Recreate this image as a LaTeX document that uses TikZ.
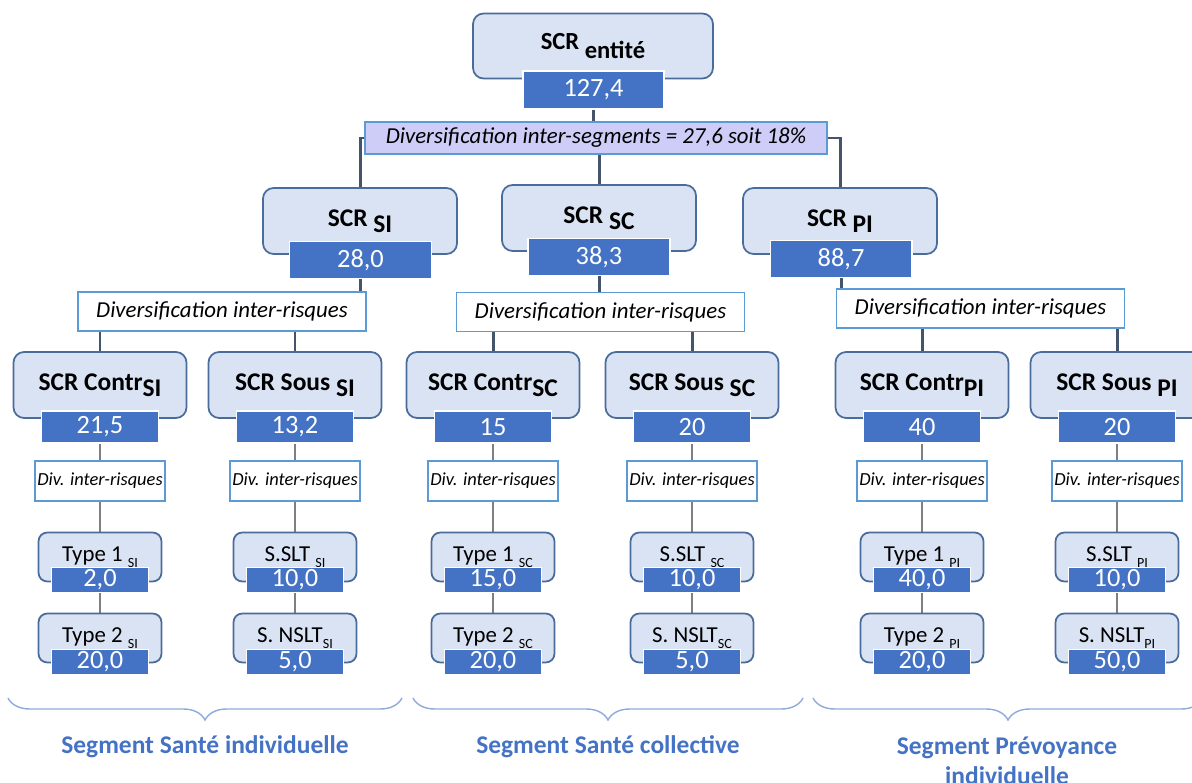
\documentclass[tikz,border=0pt]{standalone}
\usepackage{fontspec}
\setmainfont{Carlito}
\usepackage{tikz}
\usetikzlibrary{positioning,backgrounds,decorations.pathreplacing}

\definecolor{boxfill}{HTML}{DAE3F3}
\definecolor{boxline}{HTML}{4A6C9B}
\definecolor{valfill}{HTML}{4472C4}
\definecolor{divline}{HTML}{5B9BD5}
\definecolor{segfill}{HTML}{CDCDF7}
\definecolor{darkline}{HTML}{44546A}
\definecolor{greyline}{HTML}{7F7F7F}
\definecolor{bracecol}{HTML}{8FAADC}
\definecolor{segtext}{HTML}{4472C4}

\newcommand{\bigsub}[2][0.45ex]{\raisebox{-#1}{#2}}
\newcommand{\smallsub}[1]{\raisebox{-0.5ex}{\fontsize{8}{9}\selectfont #1}}

\begin{document}
\begin{tikzpicture}[
    x=0.02cm, y=-0.02cm,
    every node/.style={inner sep=0pt},
    topbox/.style={draw=boxline, fill=boxfill, line width=1pt, rounded corners=6pt,
        minimum width=4.8cm, minimum height=1.3cm, font=\fontsize{14}{16}\selectfont\bfseries},
    lvtwo/.style={draw=boxline, fill=boxfill, line width=1pt, rounded corners=6pt,
        minimum width=3.88cm, minimum height=1.32cm, font=\fontsize{14.5}{16}\selectfont\bfseries},
    lvthree/.style={draw=boxline, fill=boxfill, line width=1pt, rounded corners=6pt,
        minimum width=3.46cm, minimum height=1.32cm, font=\fontsize{14.5}{16}\selectfont\bfseries},
    typebox/.style={draw=boxline, fill=boxfill, line width=1pt, rounded corners=5pt,
        minimum width=2.46cm, minimum height=0.98cm, font=\fontsize{13}{15}\selectfont},
    valbox/.style={draw=white, fill=valfill, line width=0.6pt, text=white,
        font=\fontsize{15}{17}\selectfont},
    topval/.style={valbox, minimum width=2.82cm, minimum height=0.76cm},
    twoval/.style={valbox, minimum width=2.84cm, minimum height=0.74cm},
    threeval/.style={valbox, minimum width=2.34cm, minimum height=0.64cm},
    typeval/.style={valbox, minimum width=1.94cm, minimum height=0.5cm},
    segdiv/.style={draw=divline, fill=segfill, line width=0.8pt,
        minimum width=9.24cm, minimum height=0.64cm, font=\fontsize{13}{15}\selectfont\itshape},
    riskdiv/.style={draw=divline, fill=white, line width=0.8pt,
        minimum width=5.76cm, minimum height=0.78cm, font=\fontsize{13}{15}\selectfont\itshape},
    smalldiv/.style={draw=divline, fill=white, line width=0.8pt,
        minimum width=2.6cm, minimum height=0.8cm, font=\fontsize{10.5}{12}\selectfont\itshape},
    mainline/.style={draw=darkline, line width=1.7pt},
    subline/.style={draw=greyline, line width=1.2pt},
    segbrace/.style={draw=bracecol, line width=0.8pt,
        decorate, decoration={brace, mirror, amplitude=0.44cm}},
    segname/.style={text=segtext, align=center,
        font=\fontsize{14.5}{17}\selectfont\bfseries}
]

\useasboundingbox (0,0) rectangle (1192,783);
\clip (0,0) rectangle (1192,783);

% Entity
\node[topbox] (ent) at (593,46) {SCR \bigsub[0.75ex]{entité}};
\node[topval] (entVal) at (593.5,90) {127,4};
\node[segdiv] (divSeg) at (596,138)
    {Diversification inter-segments = 27,6 soit 18\%};

% Segments
\node[lvtwo] (si) at (360,221) {SCR \bigsub{SI}};
\node[twoval] (siVal) at (360.5,260) {28,0};
\node[riskdiv] (siDiv) at (222,311.5) {Diversification inter-risques};

\node[lvtwo] (sc) at (599,218) {SCR \bigsub{SC}};
\node[twoval] (scVal) at (599,257) {38,3};
\node[riskdiv] (scDiv) at (600.5,312) {Diversification inter-risques};

\node[lvtwo] (pi) at (840,221) {SCR \bigsub{PI}};
\node[twoval] (piVal) at (841,259) {88,7};
\node[riskdiv] (piDiv) at (980.5,308.5) {Diversification inter-risques};

% Sante individuelle
\node[lvthree] (siC) at (100,385) {SCR Contr\bigsub{SI}};
\node[threeval] (siCVal) at (100,427) {21,5};
\node[smalldiv] (siCDiv) at (100,481) {Div. inter-risques};
\node[typebox] (siT1) at (100,557) {Type 1 \smallsub{SI}};
\node[typeval] (siT1Val) at (100,580) {2,0};
\node[typebox] (siT2) at (100,638) {Type 2 \smallsub{SI}};
\node[typeval] (siT2Val) at (100,662) {20,0};

\node[lvthree] (siS) at (295,385) {SCR Sous \bigsub{SI}};
\node[threeval] (siSVal) at (295,427) {13,2};
\node[smalldiv] (siSDiv) at (295,481) {Div. inter-risques};
\node[typebox] (siSlt) at (295,557) {S.SLT \smallsub{SI}};
\node[typeval] (siSltVal) at (295,580) {10,0};
\node[typebox] (siNslt) at (295,638) {S. NSLT\smallsub{SI}};
\node[typeval] (siNsltVal) at (295,662) {5,0};

% Sante collective
\node[lvthree] (scC) at (493,385) {SCR Contr\bigsub{SC}};
\node[threeval] (scCVal) at (493,427) {15};
\node[smalldiv] (scCDiv) at (493,481) {Div. inter-risques};
\node[typebox] (scT1) at (493,557) {Type 1 \smallsub{SC}};
\node[typeval] (scT1Val) at (493,580) {15,0};
\node[typebox] (scT2) at (493,638) {Type 2 \smallsub{SC}};
\node[typeval] (scT2Val) at (493,662) {20,0};

\node[lvthree] (scS) at (692,385) {SCR Sous \bigsub{SC}};
\node[threeval] (scSVal) at (692,427) {20};
\node[smalldiv] (scSDiv) at (692,481) {Div. inter-risques};
\node[typebox] (scSlt) at (692,557) {S.SLT \smallsub{SC}};
\node[typeval] (scSltVal) at (692,580) {10,0};
\node[typebox] (scNslt) at (692,638) {S. NSLT\smallsub{SC}};
\node[typeval] (scNsltVal) at (692,662) {5,0};

% Prevoyance individuelle
\node[lvthree] (piC) at (922,385) {SCR Contr\bigsub{PI}};
\node[threeval] (piCVal) at (922,427) {40};
\node[smalldiv] (piCDiv) at (922,481) {Div. inter-risques};
\node[typebox] (piT1) at (922,557) {Type 1 \smallsub{PI}};
\node[typeval] (piT1Val) at (922,580) {40,0};
\node[typebox] (piT2) at (922,638) {Type 2 \smallsub{PI}};
\node[typeval] (piT2Val) at (922,662) {20,0};

\node[lvthree] (piS) at (1117,385) {SCR Sous \bigsub{PI}};
\node[threeval] (piSVal) at (1117,427) {20};
\node[smalldiv] (piSDiv) at (1117,481) {Div. inter-risques};
\node[typebox] (piSlt) at (1117,557) {S.SLT \smallsub{PI}};
\node[typeval] (piSltVal) at (1117,580) {10,0};
\node[typebox] (piNslt) at (1117,638) {S. NSLT\smallsub{PI}};
\node[typeval] (piNsltVal) at (1117,662) {50,0};

% Segment names
\node[segname] (siName) at (205,747) {Segment Santé individuelle};
\node[segname] (scName) at (608,747) {Segment Santé collective};
\node[segname] (piName) at (1007,761) {Segment Prévoyance\\individuelle};

\draw[segbrace] (8,698) -- (402,698);
\draw[segbrace] (413,698) -- (803,698);
\draw[segbrace] (813,698) -- (1203,698);

% Connectors
\begin{pgfonlayer}{background}
\draw[mainline] (entVal.south) -- (entVal.south |- divSeg.north);
\draw[mainline] (divSeg.center) -| (si.north);
\draw[mainline] (divSeg.center) -| (pi.north);
\draw[mainline] (divSeg.south -| sc.north) -- (sc.north);

\draw[mainline] (siVal.south) -- (siVal.south |- siDiv.north);
\draw[mainline] (siDiv.south -| siC.north) -- (siC.north);
\draw[mainline] (siDiv.south -| siS.north) -- (siS.north);
\draw[mainline] (scVal.south) -- (scVal.south |- scDiv.north);
\draw[mainline] (scDiv.south -| scC.north) -- (scC.north);
\draw[mainline] (scDiv.south -| scS.north) -- (scS.north);
\draw[mainline] (piVal.south) -- (piVal.south |- piDiv.north);
\draw[mainline] (piDiv.south -| piC.north) -- (piC.north);
\draw[mainline] (piDiv.south -| piS.north) -- (piS.north);

\draw[subline] (siCVal) -- (siCDiv) -- (siT1) (siT1Val) -- (siT2);
\draw[subline] (siSVal) -- (siSDiv) -- (siSlt) (siSltVal) -- (siNslt);
\draw[subline] (scCVal) -- (scCDiv) -- (scT1) (scT1Val) -- (scT2);
\draw[subline] (scSVal) -- (scSDiv) -- (scSlt) (scSltVal) -- (scNslt);
\draw[subline] (piCVal) -- (piCDiv) -- (piT1) (piT1Val) -- (piT2);
\draw[subline] (piSVal) -- (piSDiv) -- (piSlt) (piSltVal) -- (piNslt);
\end{pgfonlayer}

\end{tikzpicture}
\end{document}
